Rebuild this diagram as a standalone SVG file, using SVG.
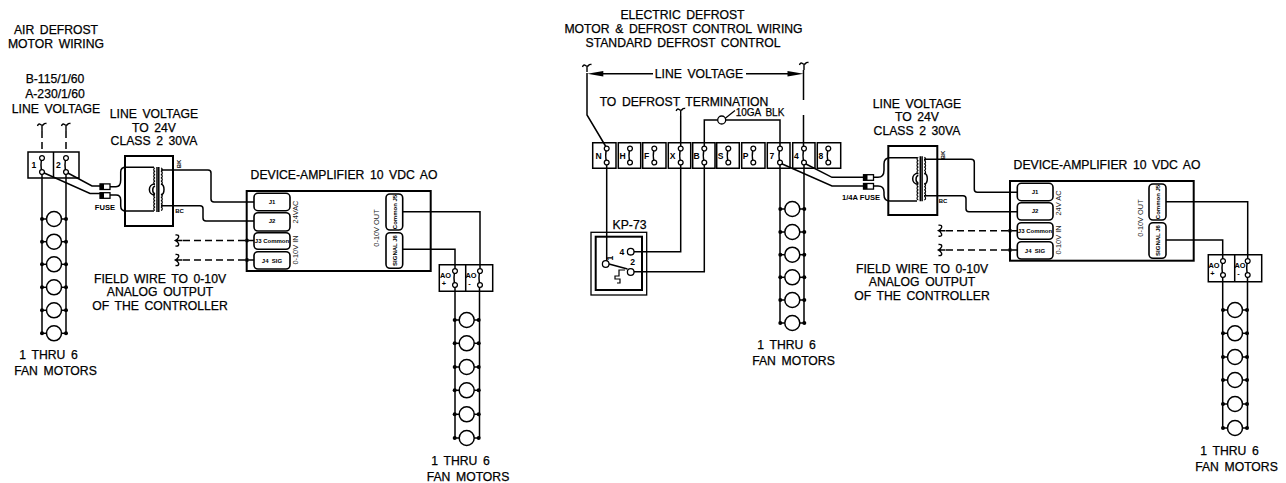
<svg xmlns="http://www.w3.org/2000/svg" width="1286" height="483" viewBox="0 0 1286 483">
<style>
text{font-family:"Liberation Sans",Arial,sans-serif;fill:#000}
.t{font-size:12.2px;word-spacing:2.2px;text-anchor:middle;dominant-baseline:central;stroke:#000;stroke-width:.25}
.s{font-size:10px;word-spacing:2px;text-anchor:middle;dominant-baseline:central;stroke:#000;stroke-width:.25}
.b{font-size:6px;font-weight:bold;text-anchor:middle;dominant-baseline:central}
.a{font-size:7.4px;font-weight:bold;text-anchor:middle;dominant-baseline:central}
.bt{font-size:7.6px;font-weight:bold;text-anchor:middle;dominant-baseline:central}
.g{font-size:7.4px;text-anchor:middle;dominant-baseline:central;fill:#222}
.l{font-size:8.6px;font-weight:bold;text-anchor:middle;dominant-baseline:central}
.w{fill:none;stroke:#000;stroke-width:1.5}
.d{fill:none;stroke:#000;stroke-width:1.5;stroke-dasharray:7 4}
.box{fill:none;stroke:#000;stroke-width:1.5}
.thick{fill:none;stroke:#000;stroke-width:2}
.j{fill:#fff;stroke:#000;stroke-width:1.6}
.thin{fill:none;stroke:#000;stroke-width:1.2}
</style>
<defs>
<g id="motor"><path class="w" d="M-12 0H12"/><circle r="7.5" fill="#fff" stroke="#000" stroke-width="1.5"/><circle cx="-12" r="2" fill="#000"/><circle cx="12" r="2" fill="#000"/></g>
<g id="term"><path class="w" d="M0 0Q-2 7 0 14"/><circle r="2.4" fill="#fff" stroke="#000" stroke-width="1.3"/><circle cy="14" r="2.4" fill="#fff" stroke="#000" stroke-width="1.3"/></g>
<path id="sq" fill="none" stroke="#000" stroke-width="1.4" d="M-4.500 -2Q-3.500 -5 -1.500 -3.500T1.500 -3.500T4.500 -4.500M0 -3.500V3"/>
<path id="sq2" fill="none" stroke="#000" stroke-width="1.4" d="M-1 -5.500Q3 -6 2 -3Q1 -1 -1 0Q1 1 2 3Q3 6 -1 5.500M-1 0H6"/>
<g id="fuse"><rect x="0" y="-2.800" width="10" height="5.600" fill="#fff" stroke="#000" stroke-width="1.300"/><rect x="0" y="-2.800" width="4" height="5.600" fill="#000"/></g>
<g id="coil">
<path class="w" d="M157 167V212M158.800 167V212" stroke-width="1.200"/>
<path class="thin" d="M155 168a1.700 1.700 0 0 0 0 3.300a1.700 1.700 0 0 0 0 3.300a1.700 1.700 0 0 0 0 3.300a1.700 1.700 0 0 0 0 3.300a1.700 1.700 0 0 0 0 3.300M155 194a1.700 1.700 0 0 0 0 3.300a1.700 1.700 0 0 0 0 3.300a1.700 1.700 0 0 0 0 3.300a1.700 1.700 0 0 0 0 3.300a1.700 1.700 0 0 0 0 3.300"/>
<path class="thin" d="M161 168a1.700 1.700 0 0 1 0 3.300a1.700 1.700 0 0 1 0 3.300a1.700 1.700 0 0 1 0 3.300a1.700 1.700 0 0 1 0 3.300a1.700 1.700 0 0 1 0 3.300M161 194a1.700 1.700 0 0 1 0 3.300a1.700 1.700 0 0 1 0 3.300a1.700 1.700 0 0 1 0 3.300a1.700 1.700 0 0 1 0 3.300a1.700 1.700 0 0 1 0 3.300"/>
<path class="w" d="M155 184C147.500 184 147.500 195 155 195M155 186C152 187 152 193 155 194M161 184C165 185 165 194 161 195"/>
</g>
<path id="arrowL" d="M0 0L16 -2.800V2.800Z" fill="#000"/>
</defs>

<g id="connectors">
<path class="d" d="M42 131V152M66 131V152"/>
<path class="w" d="M42 172V333.300M66 172V333.300"/>
<path class="w" d="M42 172L90 193.500H100M66 172L92 186H100"/>
<path class="w" d="M110 186.700H116Q120.700 186.700 120.700 180V172Q120.700 167.300 126 167.300H154M110 195H116Q120.700 195 120.700 200V206Q120.700 211 126 211H154"/>
<path class="w" d="M161 170H208Q211 170 211 173V199Q211 202 214 202H254M161 205.700H200Q203 205.700 203 208.700V218Q203 221 206 221H254"/>
<path class="d" d="M183 240.500H256M183 260H256"/>
<circle cx="247" cy="240.500" r="2" fill="#000"/><circle cx="247" cy="260" r="2" fill="#000"/>
<path class="w" d="M403 211.700H480V271M403 249.300H455V271"/>
<path class="w" d="M455 285V438M479.500 285V438"/>
<path class="w" d="M587 73V115L606.700 148M803.500 70V100M803.500 115V148"/>
<path class="w" d="M600 73.700H653M746 73.700H790"/>
<path class="w" d="M680.700 116V148M704.300 163V271.700H634M704.300 148V120H780V148M680.700 163V251.700H634M606.700 163V261"/>
<path class="w" d="M780 163V323M804 163V323"/>
<path class="w" d="M780 163L832 186H863M804 163L832 177.300H863"/>
<path class="w" d="M874 177.300H878Q884 177.300 884 170V164Q884 157.700 890 157.700H917M874 186H878Q884 186 884 192V195Q884 201 890 201H917"/>
<path class="w" d="M924 159.300H971Q974.300 159.300 974.300 162.300V189.300Q974.300 192.300 977.300 192.300H1017.300M924 195.700H963Q966 195.700 966 198.700V208.700Q966 211.700 969 211.700H1017.300"/>
<path class="d" d="M946 230.700H1019M946 250H1019"/>
<circle cx="1010" cy="230.700" r="2" fill="#000"/><circle cx="1010" cy="250" r="2" fill="#000"/>
<path class="w" d="M1166 201.700H1247.700V261M1166 240H1222.700V261"/>
<path class="w" d="M1222.700 275V428M1247.500 275V428"/>
<path class="thin" d="M725 118.500L735 110.500"/>
</g>

<g id="left-title"><text class="t" x="56" y="30">AIR DEFROST</text><text class="t" x="56" y="44">MOTOR WIRING</text></g>
<g id="left-supply"><text class="t" x="55" y="78.500">B-115/1/60</text><text class="t" x="55" y="93.500">A-230/1/60</text><text class="t" x="56" y="108.500">LINE VOLTAGE</text>
<use href="#sq" x="42" y="128"/><use href="#sq" x="66" y="128"/></g>
<g id="left-terminals">
<path class="box" d="M28 152H79V178H28ZM53.500 152V178"/>
<use href="#term" x="42" y="158"/><use href="#term" x="66" y="158"/>
<text class="l" x="34" y="165">1</text><text class="l" x="58.500" y="165">2</text>
</g>
<g id="left-motors">
<use href="#motor" x="54" y="219"/><use href="#motor" x="54" y="241.700"/><use href="#motor" x="54" y="264.300"/><use href="#motor" x="54" y="287.300"/><use href="#motor" x="54" y="310.300"/><use href="#motor" x="54" y="333.300"/>
<text class="t" x="48.500" y="355">1 THRU 6</text><text class="t" x="55.500" y="371">FAN MOTORS</text>
</g>
<g id="left-fuses"><use href="#fuse" x="100" y="186.700"/><use href="#fuse" x="100" y="195.500"/><text class="bt" x="105" y="207">FUSE</text></g>
<g id="left-transformer">
<text class="t" x="154" y="114">LINE VOLTAGE</text><text class="t" x="154" y="127.500">TO 24V</text><text class="t" x="154" y="141">CLASS 2 30VA</text>
<rect class="thick" x="125" y="156" width="48" height="70"/>
<use href="#coil"/>
<text class="b" transform="translate(179,164) rotate(-90)">BK</text><text class="b" x="179.500" y="211">BC</text>
</g>
<g id="left-amplifier">
<text class="t" x="344" y="175">DEVICE-AMPLIFIER 10 VDC AO</text>
<rect class="thick" x="246.700" y="191" width="184" height="80"/>
<rect class="j" x="254" y="193.300" width="36" height="17.400" rx="4"/><rect class="j" x="254" y="212.700" width="36" height="18.300" rx="4"/><rect class="j" x="254" y="232.700" width="36" height="16.600" rx="4"/><rect class="j" x="254" y="251.700" width="36" height="17.300" rx="4"/>
<rect class="j" x="386" y="194" width="16.700" height="36" rx="4"/><rect class="j" x="386" y="232.700" width="16.700" height="35.600" rx="4"/>
<text class="b" x="272" y="202">J1</text><text class="b" x="272" y="221">J2</text><text class="b" x="272" y="241">J3 Common</text><text class="b" x="272" y="260.500" xml:space="preserve">J4  SIG</text>
<text class="b" transform="translate(394.500,212) rotate(-90)">Common J5</text><text class="b" transform="translate(394.500,250.500) rotate(-90)">SIGNAL J6</text>
<text class="g" transform="translate(295.500,212) rotate(-90)">24VAC</text><text class="g" transform="translate(295.500,250) rotate(-90)">0-10V IN</text><text class="g" transform="translate(376.500,228) rotate(-90)">0-10V OUT</text>
</g>
<g id="left-field"><use href="#sq2" x="176.500" y="240.500"/><use href="#sq2" x="176.500" y="260"/>
<text class="t" x="160" y="279">FIELD WIRE TO 0-10V</text><text class="t" x="160" y="292">ANALOG OUTPUT</text><text class="t" x="160" y="305.500">OF THE CONTROLLER</text></g>
<g id="left-ao">
<path class="box" d="M439.300 264.700H492.700V291.300H439.300ZM465.700 264.700V291.300"/>
<use href="#term" x="455" y="271"/><use href="#term" x="480" y="271"/>
<text class="a" x="445.500" y="275.500">AO</text><text class="a" x="444" y="283">+</text><text class="a" x="471" y="275.500">AO</text><text class="a" x="469.500" y="283">-</text>
</g>
<g id="left-ao-motors">
<use href="#motor" x="466.700" y="320"/><use href="#motor" x="466.700" y="343.300"/><use href="#motor" x="466.700" y="367"/><use href="#motor" x="466.700" y="390.300"/><use href="#motor" x="466.700" y="414.300"/><use href="#motor" x="466.700" y="438"/>
<text class="t" x="460.500" y="461">1 THRU 6</text><text class="t" x="468" y="477">FAN MOTORS</text>
</g>

<g id="right-title"><text class="t" x="682.500" y="15">ELECTRIC DEFROST</text><text class="t" x="683.500" y="29">MOTOR &amp; DEFROST CONTROL WIRING</text><text class="t" x="683" y="43">STANDARD DEFROST CONTROL</text></g>
<g id="line-voltage">
<use href="#sq" x="587" y="69"/><use href="#sq" x="804" y="67"/>
<use href="#arrowL" x="587.300" y="73.700"/><use href="#arrowL" transform="translate(803.500,73.700) rotate(180)"/>
<text class="t" x="699" y="74">LINE VOLTAGE</text>
<text class="t" x="684" y="102">TO DEFROST TERMINATION</text>
<use href="#sq" x="680.700" y="113"/>
<text class="s" x="760" y="112">10GA BLK</text>
<circle cx="721.700" cy="120" r="4" fill="#fff" stroke="#000" stroke-width="1.300"/>
</g>
<g id="terminal-strip">
<path class="box" d="M592.700 142.700H616V168.300H592.700ZM618.300 142.700H640.700V168.300H618.300ZM642.700 142.700H666V168.300H642.700ZM668.300 142.700H690.700V168.300H668.300ZM692.700 142.700H715V168.300H692.700ZM716.700 142.700H739.300V168.300H716.700ZM741.700 142.700H765V168.300H741.700ZM767.300 142.700H790V168.300H767.300ZM792.700 142.700H815V168.300H792.700ZM817.300 142.700H840.700V168.300H817.300Z"/>
<use href="#term" x="606.700" y="148.500"/><use href="#term" x="630" y="148.500"/><use href="#term" x="654.300" y="148.500"/><use href="#term" x="680.700" y="148.500"/><use href="#term" x="704.300" y="148.500"/><use href="#term" x="728.300" y="148.500"/><use href="#term" x="753.300" y="148.500"/><use href="#term" x="780" y="148.500"/><use href="#term" x="804" y="148.500"/><use href="#term" x="828.300" y="148.500"/>
<text class="l" x="598.500" y="155.500">N</text><text class="l" x="622.500" y="155.500">H</text><text class="l" x="646.500" y="155.500">F</text><text class="l" x="672.500" y="155.500">X</text><text class="l" x="696.500" y="155.500">B</text><text class="l" x="720.500" y="155.500">S</text><text class="l" x="745.500" y="155.500">P</text><text class="l" x="772" y="155.500">7</text><text class="l" x="796.500" y="155.500">4</text><text class="l" x="821" y="155.500">8</text>
</g>
<g id="kp-73">
<text class="t" x="629.500" y="225">KP-73</text>
<rect x="591" y="232.300" width="55.700" height="62.700" fill="none" stroke="#000" stroke-width="1.300"/><rect class="thick" x="595.700" y="236.700" width="46.300" height="53.300"/>
<circle cx="605.700" cy="264" r="3.300" fill="#fff" stroke="#000" stroke-width="1.300"/><circle cx="630.700" cy="251.700" r="3.300" fill="#fff" stroke="#000" stroke-width="1.300"/><circle cx="630.700" cy="272" r="3.300" fill="#fff" stroke="#000" stroke-width="1.300"/>
<path class="w" d="M609 264L627.500 269"/><path class="thin" d="M625 270H619V276H615V279H620V283H617"/>
<text class="l" x="622" y="252">4</text><text class="l" transform="translate(610,258) rotate(-90)">1</text><text class="l" x="632.700" y="262">2</text>
</g>
<g id="mid-motors">
<use href="#motor" x="792.300" y="209"/><use href="#motor" x="792.300" y="232"/><use href="#motor" x="792.300" y="254.700"/><use href="#motor" x="792.300" y="277.300"/><use href="#motor" x="792.300" y="300"/><use href="#motor" x="792.300" y="323"/>
<text class="t" x="786.500" y="345">1 THRU 6</text><text class="t" x="793.500" y="361">FAN MOTORS</text>
</g>
<g id="right-fuses"><use href="#fuse" x="863.500" y="177.500"/><use href="#fuse" x="863.500" y="186.300"/><text class="bt" x="861" y="197">1/4A FUSE</text></g>
<g id="right-transformer">
<text class="t" x="917" y="104">LINE VOLTAGE</text><text class="t" x="917" y="117">TO 24V</text><text class="t" x="917" y="131">CLASS 2 30VA</text>
<rect class="thick" x="888.300" y="146" width="49" height="69"/>
<use href="#coil" x="763.300" y="-10.700"/>
<text class="b" transform="translate(943,155) rotate(-90)">BK</text><text class="b" x="943" y="201">BC</text>
</g>
<g id="right-amplifier">
<text class="t" x="1107" y="165">DEVICE-AMPLIFIER 10 VDC AO</text>
<rect class="thick" x="1010" y="181" width="183.700" height="79.700"/>
<rect class="j" x="1017.300" y="183.300" width="35.700" height="17.400" rx="4"/><rect class="j" x="1017.300" y="202.700" width="35.700" height="17.300" rx="4"/><rect class="j" x="1017.300" y="222.700" width="35.700" height="16.600" rx="4"/><rect class="j" x="1017.300" y="241.700" width="35.700" height="17.300" rx="4"/>
<rect class="j" x="1149" y="184" width="17" height="36" rx="4"/><rect class="j" x="1149" y="222.700" width="17" height="35.600" rx="4"/>
<text class="b" x="1035" y="192">J1</text><text class="b" x="1035" y="211">J2</text><text class="b" x="1035" y="231">J3 Common</text><text class="b" x="1035" y="250.500" xml:space="preserve">J4  SIG</text>
<text class="b" transform="translate(1157.500,202) rotate(-90)">Common J5</text><text class="b" transform="translate(1157.500,240.500) rotate(-90)">SIGNAL J6</text>
<text class="g" transform="translate(1058.500,203) rotate(-90)">24V AC</text><text class="g" transform="translate(1058.500,240) rotate(-90)">0-10V IN</text><text class="g" transform="translate(1140,218) rotate(-90)">0-10V OUT</text>
</g>
<g id="right-field"><use href="#sq2" x="939.500" y="230.700"/><use href="#sq2" x="939.500" y="250"/>
<text class="t" x="922" y="269">FIELD WIRE TO 0-10V</text><text class="t" x="922" y="282">ANALOG OUTPUT</text><text class="t" x="922" y="296">OF THE CONTROLLER</text></g>
<g id="right-ao">
<path class="box" d="M1208.300 254.700H1261.700V281.700H1208.300ZM1234.700 254.700V281.700"/>
<use href="#term" x="1223" y="261"/><use href="#term" x="1247.700" y="261"/>
<text class="a" x="1214" y="265.500">AO</text><text class="a" x="1212.500" y="273">+</text><text class="a" x="1240" y="265.500">AO</text><text class="a" x="1238.500" y="273">-</text>
</g>
<g id="right-ao-motors">
<use href="#motor" x="1235" y="310"/><use href="#motor" x="1235" y="333.300"/><use href="#motor" x="1235" y="357"/><use href="#motor" x="1235" y="380"/><use href="#motor" x="1235" y="404"/><use href="#motor" x="1235" y="428"/>
<text class="t" x="1229.500" y="451">1 THRU 6</text><text class="t" x="1236.500" y="467">FAN MOTORS</text>
</g>
</svg>
